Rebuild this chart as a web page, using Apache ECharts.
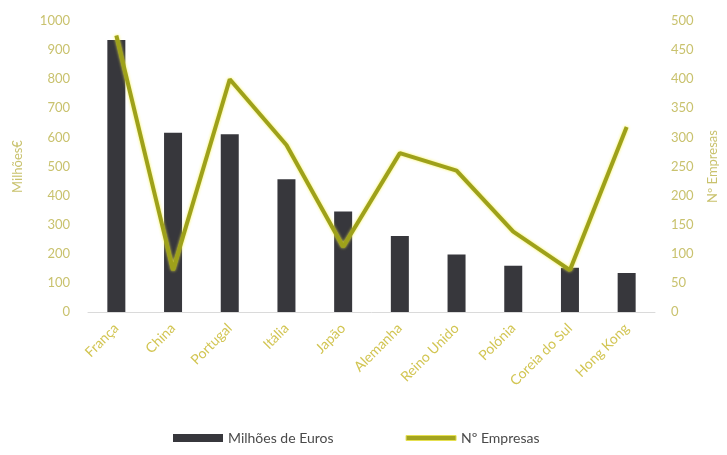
<!DOCTYPE html>
<html>
<head>
<meta charset="utf-8">
<script src="https://cdn.jsdelivr.net/npm/echarts@6/dist/echarts.min.js"></script>
<style>
html,body{margin:0;padding:0;background:#fff;}
#chart{width:727px;height:455px;}
</style>
</head>
<body>
<div id="chart"></div>
<script>
const countries = ['França','China','Portugal','Itália','Japão','Alemanha','Reino Unido','Polónia','Coreia do Sul','Hong Kong'];
const milhoesEuros = [935, 616, 611, 456, 345, 261, 198, 159, 152, 134];
const nEmpresas = [475, 72, 400, 287, 112, 273, 243, 138, 72, 318];
const leftTicks = [0, 100, 200, 300, 400, 500, 600, 700, 800, 900, 1000];
const rightTicks = [0, 50, 100, 150, 200, 250, 300, 350, 400, 450, 500];

const axisText = '#c9c26e';
const catText = '#d2c552';
const font = 'Lato';

const chart = echarts.init(document.getElementById('chart'));
chart.setOption({
  backgroundColor: '#ffffff',
  textStyle: { fontFamily: font },
  grid: { left: 88, right: 70, top: 21, bottom: 143 },
  legend: {
    bottom: 5,
    left: 168,
    itemGap: 72,
    itemWidth: 50,
    itemHeight: 8,
    textStyle: { color: '#4a4a4a', fontSize: 14, fontFamily: font },
    data: [
      { name: 'Milhões de Euros', icon: 'rect' },
      { name: 'Nº Empresas', icon: 'path://M0,0 H50 V5 H0 Z', itemStyle: { color: '#a3a420', borderColor: '#e6e050', borderWidth: 1 } }
    ]
  },
  xAxis: {
    type: 'category',
    data: countries,
    axisLine: { lineStyle: { color: '#dadada', width: 1 } },
    axisTick: { show: false },
    axisLabel: { rotate: 45, color: catText, fontSize: 14, margin: 14, interval: 0 }
  },
  yAxis: [
    {
      type: 'value',
      min: leftTicks[0],
      max: leftTicks[leftTicks.length - 1],
      interval: leftTicks[1] - leftTicks[0],
      name: 'Milhões€',
      nameLocation: 'middle',
      nameGap: 64,
      nameRotate: 90,
      nameTextStyle: { color: axisText, fontSize: 13 },
      axisLine: { show: false },
      axisTick: { show: false },
      splitLine: { show: false },
      axisLabel: { color: axisText, fontSize: 13, margin: 18, formatter: v => String(v) }
    },
    {
      type: 'value',
      min: rightTicks[0],
      max: rightTicks[rightTicks.length - 1],
      interval: rightTicks[1] - rightTicks[0],
      name: 'Nº Empresas',
      nameLocation: 'middle',
      nameGap: 51,
      nameRotate: 90,
      nameTextStyle: { color: axisText, fontSize: 13 },
      axisLine: { show: false },
      axisTick: { show: false },
      splitLine: { show: false },
      axisLabel: { color: axisText, fontSize: 13, margin: 16, formatter: v => String(v) }
    }
  ],
  series: [
    {
      name: 'Milhões de Euros',
      type: 'bar',
      data: milhoesEuros,
      barWidth: 18,
      itemStyle: { color: '#37373c' }
    },
    {
      name: 'Nº Empresas',
      type: 'line',
      yAxisIndex: 1,
      data: nEmpresas,
      symbol: 'none',
      lineStyle: {
        color: '#9ea11a',
        width: 4,
        shadowColor: 'rgba(245,240,70,0.95)',
        shadowBlur: 3
      },
      itemStyle: { color: '#9ea11a' }
    }
  ]
});
</script>
</body>
</html>
